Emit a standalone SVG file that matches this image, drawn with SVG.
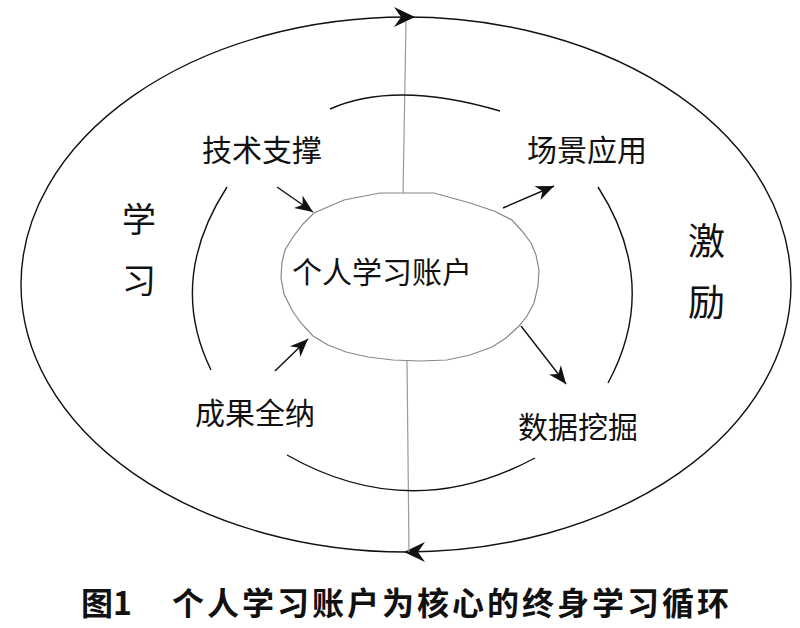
<svg xmlns="http://www.w3.org/2000/svg" width="800" height="628" viewBox="0 0 800 628">
<style>
.lbl{font-family:"Noto Sans CJK SC","Noto Sans",sans-serif;font-size:30px;fill:#111}
.big{font-family:"Noto Sans CJK SC","Noto Sans",sans-serif;fill:#111}
.cap{font-family:"Noto Sans CJK SC","Noto Sans",sans-serif;font-weight:bold;font-size:32px;fill:#111}
.capm{letter-spacing:3px}
.ln{fill:none;stroke:#111;stroke-width:1.4}
.thin{fill:none;stroke:#999;stroke-width:1.2}
</style>
<defs>
<path id="bigHead" d="M0,0 L-21,-10 L-14,0 L-21,10 Z" fill="#111"/>
<marker id="ah" viewBox="-20 -10 22 20" refX="0" refY="0" markerWidth="22" markerHeight="20" markerUnits="userSpaceOnUse" orient="auto">
<path d="M0,0 L-18,-7.5 L-12.5,0 L-18,7.5 Z" fill="#111"/>
</marker>
</defs>
<rect width="800" height="628" fill="#fff"/>

<g id="cycle">
<ellipse cx="406" cy="284.5" rx="385" ry="267.5" class="ln"/>
<use href="#bigHead" transform="translate(415,17)"/>
<use href="#bigHead" transform="translate(404,552) rotate(180)"/>
</g>

<g id="connectors">
<path class="thin" d="M406,22 L403,196"/>
<path class="thin" d="M407,360 L409,552"/>
<path class="ln" d="M330,109 Q395,80 500,111"/>
<path class="ln" d="M287,455 Q410,525 535,458"/>
<path class="ln" d="M227,187 Q167,280 211,370"/>
<path class="ln" d="M598,187 Q661,285 608,383"/>
<path class="ln" d="M277,187 L313,212" marker-end="url(#ah)"/>
<path class="ln" d="M275,371 L308,339" marker-end="url(#ah)"/>
<path class="ln" d="M503,208 L554,186" marker-end="url(#ah)"/>
<path class="ln" d="M521,326 L566,384" marker-end="url(#ah)"/>
</g>

<g id="account">
<path d="M380,193 L434,193 L470,203 L494,211 L512,220 L522,231 L531,243 L536,255 L539,270 L538,286 L534,303 L527,316 L519,326 L506,338 L492,347 L470,355 L447,360 L420,361 L393,360 L368,357 L346,352 L328,345 L313,336 L300,322 L292,310 L284,294 L281,278 L282,262 L285,250 L293,237 L303,224 L314,213 L330,206 L344,200 Z" fill="#fff" stroke="#888" stroke-width="1.2"/>
<text class="lbl" x="292" y="283">个人学习账户</text>
</g>

<g id="tech"><text class="lbl" x="202" y="161">技术支撑</text></g>
<g id="scene"><text class="lbl" x="527" y="161">场景应用</text></g>
<g id="results"><text class="lbl" x="195" y="424">成果全纳</text></g>
<g id="mining"><text class="lbl" x="518" y="438">数据挖掘</text></g>

<g id="learn">
<text class="big" font-size="34" x="122" y="232">学</text>
<text class="big" font-size="34" x="122" y="293">习</text>
</g>
<g id="incentive">
<text class="big" font-size="37" x="688" y="255">激</text>
<text class="big" font-size="37" x="688" y="316">励</text>
</g>

<g id="caption">
<text class="cap" x="81" y="615">图1</text>
<text class="cap capm" x="172" y="615">个人学习账户为核心的终身学习循环</text>
</g>
</svg>
